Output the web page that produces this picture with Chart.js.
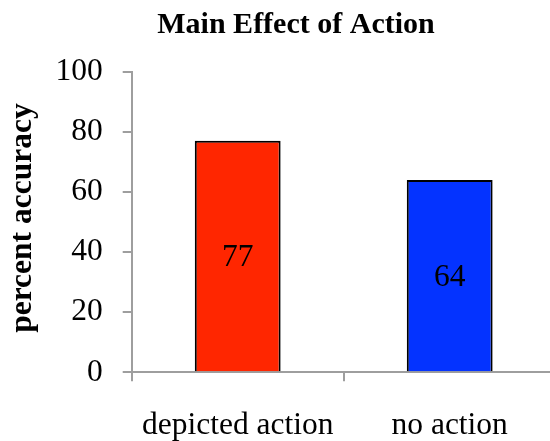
<!DOCTYPE html>
<html>
<head>
<meta charset="utf-8">
<script src="https://cdn.jsdelivr.net/npm/chart.js@4/dist/chart.umd.min.js"></script>
<style>
  html, body { margin: 0; padding: 0; background: #fff; overflow: hidden; }
  #wrap { width: 592px; height: 441px; }
</style>
</head>
<body>
<div id="wrap"><canvas id="chart" width="592" height="441"></canvas></div>
<script>
// Accuracy by condition
const categories = ['depicted action', 'no action'];
const accuracy = [77, 64];
const barColors = ['#FF2600', '#0433FF'];
const yTicks = [0, 20, 40, 60, 80, 100];

const serif = '"Liberation Serif", "Times New Roman", Times, serif';
const axisGray = '#9e9e9e';

// Writes each bar's value in the middle of the bar
const barValueLabels = {
  id: 'barValueLabels',
  afterDatasetsDraw(chart) {
    const ctx = chart.ctx;
    const meta = chart.getDatasetMeta(0);
    ctx.save();
    ctx.font = '31.5px ' + serif;
    ctx.fillStyle = '#000';
    ctx.textAlign = 'center';
    ctx.textBaseline = 'middle';
    meta.data.forEach((bar, i) => {
      const v = chart.data.datasets[0].data[i];
      ctx.fillText(String(v), bar.x, (bar.y + bar.base) / 2 + 2);
    });
    ctx.restore();
  }
};

new Chart(document.getElementById('chart'), {
  type: 'bar',
  data: {
    labels: categories,
    datasets: [{
      data: accuracy,
      backgroundColor: barColors,
      borderColor: '#000',
      borderWidth: 2,
      barPercentage: 0.405,
      categoryPercentage: 1
    }]
  },
  options: {
    responsive: false,
    devicePixelRatio: 1,
    animation: false,
    layout: { padding: 0 },
    plugins: {
      legend: { display: false },
      tooltip: { enabled: false },
      title: {
        display: true,
        text: 'Main Effect of Action',
        color: '#000',
        font: { family: serif, size: 30, weight: 'bold' },
        padding: { top: 7.2, bottom: 28.5 }
      }
    },
    scales: {
      x: {
        offset: true,
        grid: {
          offset: true,
          drawOnChartArea: false,
          drawTicks: true,
          tickLength: 9,
          color: axisGray,
          lineWidth: 2
        },
        border: { color: axisGray, width: 2 },
        ticks: {
          color: '#000',
          font: { family: serif, size: 31.5 },
          padding: 25.5,
          maxRotation: 0
        },
        afterFit(scale) { scale.height = 68.7; }
      },
      y: {
        min: 0,
        max: 100,
        afterBuildTicks(scale) { scale.ticks = yTicks.map(v => ({ value: v })); },
        grid: {
          drawOnChartArea: false,
          drawTicks: true,
          tickLength: 9,
          color: axisGray,
          lineWidth: 2
        },
        border: { color: axisGray, width: 2 },
        ticks: {
          color: '#000',
          font: { family: serif, size: 31.5 },
          padding: 20
        },
        title: {
          display: true,
          text: ' percent accuracy',
          color: '#000',
          font: { family: serif, size: 31.5, weight: 'bold' },
          padding: { top: 4, bottom: 0 }
        },
        afterFit(scale) { scale.width = 131.7; }
      },
      // empty margin on the right of the plot
      yRight: {
        position: 'right',
        display: true,
        grid: { display: false },
        border: { display: false },
        ticks: { display: false },
        afterFit(scale) { scale.width = 36.3; }
      }
    }
  },
  plugins: [barValueLabels]
});
</script>
</body>
</html>
